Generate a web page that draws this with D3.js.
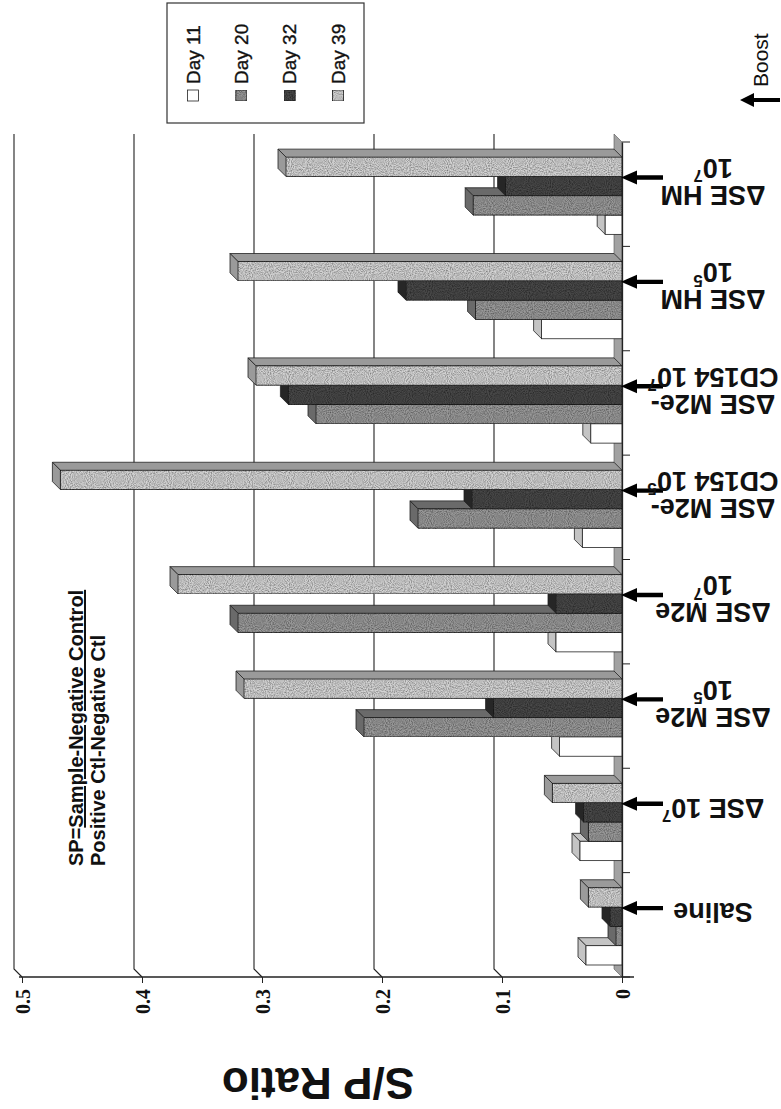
<!DOCTYPE html>
<html>
<head>
<meta charset="utf-8">
<script src="https://cdn.jsdelivr.net/npm/d3@7"></script>
<style>
  body { margin: 0; background: #fff; }
  svg { display: block; }
</style>
</head>
<body>
<svg id="chart" width="781" height="1109"></svg>
<script>
// S/P ratio per vaccine group and bleed day.
// The figure is printed on its side, so values run right -> left.
const categories = ['Saline', 'ΔSE 10^7', 'ΔSE M2e 10^5', 'ΔSE M2e 10^7',
    'ΔSE M2e-CD154 10^5', 'ΔSE M2e-CD154 10^7', 'ΔSE HM 10^5', 'ΔSE HM 10^7'];
const categoryLines = [['Saline'], ['ΔSE 10^7'], ['ΔSE M2e', '10^5'], ['ΔSE M2e', '10^7'],
    ['ΔSE M2e-', 'CD154 10^5'], ['ΔSE M2e-', 'CD154 10^7'], ['ΔSE HM', '10^5'], ['ΔSE HM', '10^7']];
const seriesNames = ['Day 11', 'Day 20', 'Day 32', 'Day 39'];
const day11 = [0.030, 0.035, 0.052, 0.055, 0.033, 0.026, 0.067, 0.014];
const day20 = [0.005, 0.028, 0.215, 0.320, 0.170, 0.255, 0.122, 0.124];
const day32 = [0.010, 0.032, 0.107, 0.055, 0.125, 0.278, 0.180, 0.097];
const day39 = [0.028, 0.058, 0.315, 0.370, 0.468, 0.305, 0.320, 0.280];
const tickValues = [0, 0.1, 0.2, 0.3, 0.4, 0.5];
const noteLines = ['SP=', 'Sample-Negative Control', 'Positive Ctl-Negative Ctl'];

class SPChart {

    constructor() {
        this.svg = d3.select('#chart');
        this.depth = 8; // 3d offset, goes up-left

        // value axis is horizontal, 0 on the right
        this.x = d3.scaleLinear().domain([0, 0.5]).range([622, 22]);
        // first category at the bottom
        this.y = d3.scaleBand().domain(categories).range([977, 142]);
        let bw = this.y.bandwidth();
        this.sub = d3.scaleBand().domain(seriesNames).range([bw * 0.885, bw * 0.145]);

        this.series = [day11, day20, day32, day39];
        this.fills = ['#ffffff', '#9a9a9a', '#4a4a4a', '#d4d4d4'];
        this.sides = ['#c4c4c4', '#6a6a6a', '#262626', '#9a9a9a'];
        this.grainy = [false, true, true, true];

        this.addFilters();
        this.drawWalls();
        this.drawBars();
        this.drawAxes();
        this.drawLabels();
        this.drawLegend();
        this.drawNotes();
    }

    addFilters() {
        // speckled look of the scanned grey fills
        let f = this.svg.append('defs').append('filter')
            .attr('id', 'grain')
            .attr('x', 0).attr('y', 0)
            .attr('width', '100%').attr('height', '100%');
        f.append('feTurbulence')
            .attr('type', 'fractalNoise')
            .attr('baseFrequency', 0.95)
            .attr('numOctaves', 1)
            .attr('seed', 3)
            .attr('result', 'noise');
        f.append('feColorMatrix')
            .attr('in', 'noise')
            .attr('type', 'matrix')
            .attr('values', '0 0 0 0 0  0 0 0 0 0  0 0 0 0 0  1.4 0 0 0 -0.45')
            .attr('result', 'dots');
        f.append('feComposite')
            .attr('in', 'dots')
            .attr('in2', 'SourceGraphic')
            .attr('operator', 'in')
            .attr('result', 'clipped');
        let m = f.append('feMerge');
        m.append('feMergeNode').attr('in', 'SourceGraphic');
        m.append('feMergeNode').attr('in', 'clipped');
    }

    drawWalls() {
        let d = this.depth;
        let x0 = this.x(0);
        let [yBottom, yTop] = this.y.range();

        // floor strip (was the bottom of the original chart)
        this.svg.append('polygon')
            .attr('points', [[x0 - d, yTop - d], [x0, yTop], [x0, yBottom], [x0 - d, yBottom - d]].join(' '))
            .attr('fill', '#a2a2a2')
            .attr('stroke', '#555')
            .attr('stroke-width', 0.6);

        // gridlines on the back wall, bending forward at the side wall
        let grid = this.svg.append('g');
        for (let v of tickValues.slice(1)) {
            let gx = this.x(v);
            grid.append('path')
                .attr('d', `M${gx - d},${yTop - d}V${yBottom - d}L${gx},${yBottom}`)
                .attr('fill', 'none')
                .attr('stroke', '#222')
                .attr('stroke-width', 1.1);
        }
    }

    drawBars() {
        let that = this;
        let d = this.depth;
        let h = this.sub.bandwidth();
        let x0 = this.x(0);

        this.series.forEach(function (values, s) {
            let g = that.svg.append('g').attr('class', 'series-' + s);
            let filter = that.grainy[s] ? 'url(#grain)' : null;
            values.forEach(function (v, i) {
                let top = that.y(categories[i]) + that.sub(seriesNames[s]);
                let left = that.x(v);
                // top face
                g.append('polygon')
                    .attr('points', [[left, top], [x0, top], [x0 - d, top - d], [left - d, top - d]].join(' '))
                    .attr('fill', that.sides[s])
                    .attr('stroke', '#222')
                    .attr('stroke-width', 0.8);
                // end cap
                g.append('polygon')
                    .attr('points', [[left, top], [left, top + h], [left - d, top + h - d], [left - d, top - d]].join(' '))
                    .attr('fill', that.sides[s])
                    .attr('stroke', '#222')
                    .attr('stroke-width', 0.8);
                // front face
                g.append('rect')
                    .attr('x', left)
                    .attr('y', top)
                    .attr('width', x0 - left)
                    .attr('height', h)
                    .attr('fill', that.fills[s])
                    .attr('filter', filter)
                    .attr('stroke', '#222')
                    .attr('stroke-width', 0.8);
            });
        });
    }

    drawAxes() {
        let x0 = this.x(0);
        let [yBottom, yTop] = this.y.range();

        // value axis along the bottom
        let xAxis = d3.axisBottom(this.x)
            .tickValues(tickValues)
            .tickSize(6)
            .tickFormat(d => d === 0 ? '0' : d3.format('.1f')(d));
        let ax = this.svg.append('g')
            .attr('transform', `translate(0,${yBottom})`)
            .call(xAxis);
        ax.select('.domain')
            .attr('d', `M${this.x(0.5) - 3},0H${x0 + 12}`)
            .attr('stroke', '#222')
            .attr('stroke-width', 1.3);
        ax.selectAll('.tick line').attr('stroke', '#222');
        ax.selectAll('.tick text')
            .attr('transform', 'translate(0,12) rotate(-90)')
            .attr('x', 0)
            .attr('y', 0)
            .attr('dy', '0.35em')
            .attr('text-anchor', 'end')
            .attr('font-family', '"Liberation Serif", serif')
            .attr('font-weight', 'bold')
            .attr('font-size', 20)
            .attr('fill', '#111');

        // category axis on the right (front edge of the floor)
        let yAxis = d3.axisRight(this.y).tickSize(0).tickFormat('');
        let ay = this.svg.append('g')
            .attr('transform', `translate(${x0},0)`)
            .call(yAxis);
        ay.select('.domain').attr('stroke', '#222').attr('stroke-width', 1.3);
        let bounds = this.y.domain().map(c => this.y(c)).concat([yBottom]);
        ay.selectAll('line.boundary')
            .data(bounds)
            .join('line')
            .attr('class', 'boundary')
            .attr('x1', 0).attr('x2', 8)
            .attr('y1', d => d).attr('y2', d => d)
            .attr('stroke', '#222');

        // axis title, upside down
        this.svg.append('text')
            .attr('transform', `translate(318,1083) rotate(180)`)
            .attr('text-anchor', 'middle')
            .attr('dominant-baseline', 'central')
            .attr('font-family', '"Liberation Sans", Arial, sans-serif')
            .attr('font-weight', 'bold')
            .attr('font-size', 44)
            .attr('fill', '#111')
            .text('S/P Ratio');
    }

    addLine(text, line) {
        let parts = line.split('^');
        text.append('tspan').text(parts[0]);
        if (parts.length > 1) {
            text.append('tspan')
                .attr('font-size', '62%')
                .attr('dy', '-0.5em')
                .text(parts[1]);
        }
    }

    drawLabels() {
        let that = this;
        let bw = this.y.bandwidth();
        let x0 = this.x(0);

        categories.forEach(function (c, i) {
            let ay = that.y(c) + bw * 0.34;

            // boost arrow pointing at the bars
            that.svg.append('path')
                .attr('d', `M${x0 - 1},${ay}L${x0 + 15},${ay - 7}L${x0 + 15},${ay - 2.2}L${x0 + 41},${ay - 2.2}` +
                    `L${x0 + 41},${ay + 2.2}L${x0 + 15},${ay + 2.2}L${x0 + 15},${ay + 7}Z`)
                .attr('fill', '#000');

            // category label, upside down
            let lines = categoryLines[i];
            let g = that.svg.append('g')
                .attr('transform', `translate(713,${ay + 4}) rotate(180)`);
            lines.forEach(function (line, k) {
                let t = g.append('text')
                    .attr('y', (k - (lines.length - 1) / 2) * 27)
                    .attr('text-anchor', 'middle')
                    .attr('dominant-baseline', 'central')
                    .attr('font-family', '"Liberation Sans", Arial, sans-serif')
                    .attr('font-weight', 'bold')
                    .attr('font-size', 27)
                    .attr('fill', '#111');
                that.addLine(t, line);
            });
        });
    }

    drawLegend() {
        let legend = this.svg.append('g');
        legend.append('rect')
            .attr('x', 167).attr('y', 3)
            .attr('width', 197).attr('height', 120)
            .attr('fill', '#fff')
            .attr('stroke', '#333')
            .attr('stroke-width', 1.2);

        let that = this;
        let cols = d3.scalePoint().domain(seriesNames).range([193, 338]);
        seriesNames.forEach(function (name, s) {
            let cx = cols(name);
            legend.append('rect')
                .attr('x', cx - 5.5).attr('y', 90)
                .attr('width', 11).attr('height', 11)
                .attr('fill', that.fills[s])
                .attr('filter', that.grainy[s] ? 'url(#grain)' : null)
                .attr('stroke', '#222')
                .attr('stroke-width', 0.8);
            legend.append('text')
                .attr('transform', `translate(${cx},84) rotate(-90)`)
                .attr('dominant-baseline', 'central')
                .attr('font-family', '"Liberation Sans", Arial, sans-serif')
                .attr('font-size', 19)
                .attr('fill', '#111')
                .attr('stroke', '#111')
                .attr('stroke-width', 0.35)
                .text(name);
        });
    }

    drawNotes() {
        // formula note, reading bottom to top
        let note = this.svg.append('text')
            .attr('transform', 'translate(83,866) rotate(-90)')
            .attr('font-family', '"Liberation Sans", Arial, sans-serif')
            .attr('font-weight', 'bold')
            .attr('font-size', 20)
            .attr('fill', '#111');
        note.append('tspan').text(noteLines[0]);
        note.append('tspan')
            .style('text-decoration', 'underline')
            .text(noteLines[1]);
        this.svg.append('text')
            .attr('transform', 'translate(105,866) rotate(-90)')
            .attr('font-family', '"Liberation Sans", Arial, sans-serif')
            .attr('font-weight', 'bold')
            .attr('font-size', 20)
            .attr('fill', '#111')
            .text(noteLines[2]);

        // "Boost" key
        this.svg.append('text')
            .attr('transform', 'translate(768,87) rotate(-90)')
            .attr('font-family', '"Liberation Sans", Arial, sans-serif')
            .attr('font-size', 21)
            .attr('fill', '#111')
            .text('Boost');
        this.svg.append('path')
            .attr('d', 'M740,100L754,93L754,98L780,98L780,102L754,102L754,107Z')
            .attr('fill', '#000');
    }
}

new SPChart();
</script>
</body>
</html>
